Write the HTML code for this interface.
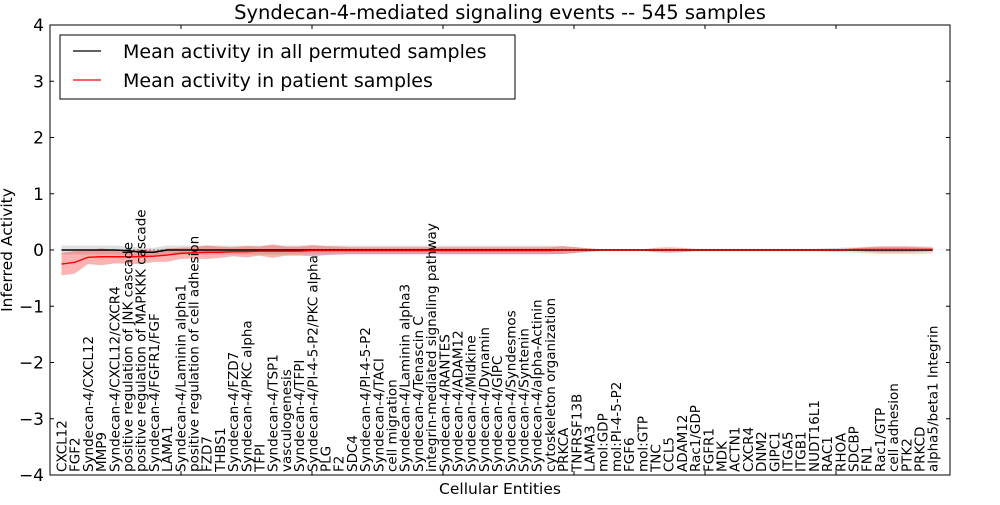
<!DOCTYPE html>
<html><head><meta charset="utf-8"><style>
body{margin:0;background:#fff;}
svg text{font-family:"DejaVu Sans","Liberation Sans",sans-serif;}
</style></head><body>
<svg id="chart" width="1000" height="500" xmlns="http://www.w3.org/2000/svg">
<rect width="1000" height="500" fill="#fff"/>
<text x="500" y="19" font-size="19.5" text-anchor="middle">Syndecan-4-mediated signaling events -- 545 samples</text>
<g id="bands"></g>
<g id="lines"></g>
<rect x="50" y="25" width="900" height="450" fill="none" stroke="#000" stroke-width="1"/>
<g id="ticks"></g>
<g id="xlabels"></g>
<text transform="translate(12,250) rotate(-90)" font-size="15.5" text-anchor="middle">Inferred Activity</text>
<text x="500" y="494" font-size="15.5" text-anchor="middle">Cellular Entities</text>
<g>
<rect x="60" y="35" width="455" height="64" fill="#fff" stroke="#000" stroke-width="1"/>
<line x1="73" y1="51" x2="101" y2="51" stroke="#000" stroke-width="1.2"/>
<text x="123" y="58" font-size="19">Mean activity in all permuted samples</text>
<line x1="73" y1="80" x2="101" y2="80" stroke="#f00" stroke-width="1.2"/>
<text x="123" y="87" font-size="19">Mean activity in patient samples</text>
</g>
</svg>
<script>
const categories=["CXCL12","FGF2","Syndecan-4/CXCL12","MMP9","Syndecan-4/CXCL12/CXCR4","positive regulation of JNK cascade","positive regulation of MAPKKK cascade","Syndecan-4/FGFR1/FGF","LAMA1","Syndecan-4/Laminin alpha1","positive regulation of cell adhesion","FZD7","THBS1","Syndecan-4/FZD7","Syndecan-4/PKC alpha","TFPI","Syndecan-4/TSP1","vasculogenesis","Syndecan-4/TFPI","Syndecan-4/PI-4-5-P2/PKC alpha","PLG","F2","SDC4","Syndecan-4/PI-4-5-P2","Syndecan-4/TACI","cell migration","Syndecan-4/Laminin alpha3","Syndecan-4/Tenascin C","integrin-mediated signaling pathway","Syndecan-4/RANTES","Syndecan-4/ADAM12","Syndecan-4/Midkine","Syndecan-4/Dynamin","Syndecan-4/GIPC","Syndecan-4/Syndesmos","Syndecan-4/Syntenin","Syndecan-4/alpha-Actinin","cytoskeleton organization","PRKCA","TNFRSF13B","LAMA3","mol:GDP","mol:PI-4-5-P2","FGF6","mol:GTP","TNC","CCL5","ADAM12","Rac1/GDP","FGFR1","MDK","ACTN1","CXCR4","DNM2","GIPC1","ITGA5","ITGB1","NUDT16L1","RAC1","RHOA","SDCBP","FN1","Rac1/GTP","cell adhesion","PTK2","PRKCD","alpha5/beta1 Integrin"];
const patientMean=[-0.25,-0.22,-0.13,-0.12,-0.12,-0.12,-0.12,-0.11,-0.09,-0.06,-0.05,-0.04,-0.04,-0.03,-0.03,-0.02,-0.02,-0.02,-0.02,-0.01,-0.01,-0.01,-0.01,-0.01,-0.01,-0.01,-0.01,-0.01,-0.01,-0.01,-0.01,-0.01,-0.01,-0.01,-0.01,-0.01,-0.01,-0.01,0,0,0,0,0,0,0,0,0,0,0,0,0,0,0,0,0,0,0,0,0,0,0.01,0.01,0.01,0.01,0.01,0.01,0.01];
const patientSpread=[0.2,0.2,0.12,0.15,0.12,0.12,0.13,0.1,0.12,0.1,0.1,0.12,0.1,0.08,0.1,0.08,0.12,0.08,0.08,0.1,0.08,0.07,0.06,0.06,0.06,0.06,0.06,0.06,0.06,0.06,0.06,0.06,0.06,0.06,0.06,0.06,0.06,0.06,0.07,0.05,0.03,0.01,0.01,0.01,0.01,0.04,0.05,0.04,0.02,0.02,0.02,0.02,0.02,0.02,0.02,0.02,0.02,0.02,0.02,0.02,0.02,0.04,0.05,0.05,0.05,0.04,0.03];
const permMean=[0,0,0,0,0,-0.01,-0.04,-0.04,0,0,0,0,0,0,0,0,0,0,0,0,0,0,0,0,0,0,0,0,0,0,0,0,0,0,0,0,0,0,0,0,0,0,0,0,0,0,0,0,0,0,0,0,0,0,0,0,0,0,0,0,0,0,0,0,0,0,0];
const permSpread=[0.08,0.08,0.08,0.08,0.08,0.08,0.08,0.08,0.08,0.08,0.08,0.08,0.08,0.08,0.08,0.08,0.08,0.08,0.08,0.08,0.08,0.08,0.08,0.08,0.08,0.08,0.08,0.08,0.08,0.08,0.08,0.08,0.08,0.08,0.08,0.08,0.08,0.08,0.07,0.05,0.03,0.02,0.02,0.02,0.02,0.02,0.02,0.02,0.02,0.02,0.02,0.02,0.02,0.02,0.02,0.02,0.02,0.02,0.03,0.04,0.05,0.06,0.07,0.07,0.07,0.07,0.06];
const yTicks=[-4,-3,-2,-1,0,1,2,3,4];
const xTicks=[10,20,30,40,50,60];

const NS="http://www.w3.org/2000/svg";
function xScale(i){return 61.5+i*13.2;}
function xAxis(v){return 50+v*13.1;}
function yScale(v){return 250-v*56.25;}
function mk(tag,attrs,parent){const e=document.createElementNS(NS,tag);for(const k in attrs)e.setAttribute(k,attrs[k]);document.getElementById(parent).appendChild(e);return e;}
function band(mean,spread,color,op,name){
  let top=mean.map((m,i)=>xScale(i)+","+yScale(m+spread[i]));
  let bot=mean.map((m,i)=>xScale(i)+","+yScale(m-spread[i])).reverse();
  const p=mk("polygon",{points:top.concat(bot).join(" "),fill:color,"fill-opacity":op},"bands");
  
  
}
band(permMean,permSpread,"#999",0.3,"permuted-band");
band(patientMean,patientSpread,"#f00",0.3,"patient-band");
const dl=mk("polyline",{points:permMean.map((m,i)=>xScale(i)+","+yScale(m)).join(" "),fill:"none",stroke:"#000","stroke-width":1.4},"lines");


const rl=mk("polyline",{points:patientMean.map((m,i)=>xScale(i)+","+yScale(m)).join(" "),fill:"none",stroke:"#f00","stroke-width":1.4},"lines");


const zl=mk("line",{x1:xScale(0),x2:xScale(categories.length-1),y1:yScale(0),y2:yScale(0),stroke:"#000","stroke-width":1,"stroke-dasharray":"1,3"},"lines");


yTicks.forEach(v=>{
  const y=yScale(v);
  mk("line",{x1:50,x2:54,y1:y,y2:y,stroke:"#000"},"ticks");
  mk("line",{x1:946,x2:950,y1:y,y2:y,stroke:"#000"},"ticks");
  const t=mk("text",{x:44,y:y+6,"font-size":17,"text-anchor":"end"},"ticks");
  t.textContent=(v<0?"\u2212"+(-v):String(v));
  
  
});
xTicks.forEach(v=>{
  const x=xAxis(v);
  mk("line",{x1:x,x2:x,y1:25,y2:29,stroke:"#000"},"ticks");
  mk("line",{x1:x,x2:x,y1:471,y2:475,stroke:"#000"},"ticks");
});
categories.forEach((c,i)=>{
  const x=xScale(i)+5;
  const t=mk("text",{transform:"translate("+x+",472) rotate(-90)","font-size":13.5},"xlabels");
  t.textContent=c;
  
  
});
</script>
</body></html>
